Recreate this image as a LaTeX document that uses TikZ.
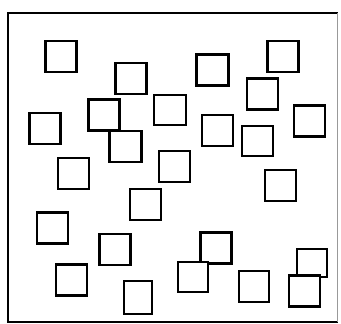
\documentclass[tikz,border=0pt]{standalone}
\begin{document}
\begin{tikzpicture}[x=1pt,y=-1pt,
  sq/.style={draw=black,line width=2.3pt,fill=white,inner sep=0pt,outer sep=0pt,minimum width=31pt,minimum height=31pt}]
\useasboundingbox (0,0) rectangle (341,324);
% frame
\coordinate (tl) at (8,13);
\coordinate (tr) at (337,13);
\coordinate (bl) at (8,322);
\coordinate (br) at (337,322);
\draw[line width=2pt,line cap=rect] (tr) -- (tl) -- (bl) -- (br);
\draw[line width=0.7pt,black!40] (tr) -- (br);
% squares
\node[sq] (s1) at (61,56.5) {};
\node[sq] (s2) at (131,78.5) {};
\node[sq] (s3) at (104,115) {};
\node[sq] (s4) at (45,128.5) {};
\node[sq,minimum width=32pt] (s5) at (125.5,146.5) {};
\node[sq,minimum width=32pt,minimum height=30pt] (s6) at (170,110) {};
\node[sq] (s7) at (73.5,173.5) {};
\node[sq] (s8) at (174.5,166.5) {};
\node[sq,minimum width=32pt] (s9) at (212.5,70) {};
\node[sq] (s10) at (283,56.5) {};
\node[sq] (s11) at (262.5,94) {};
\node[sq] (s12) at (217.5,130.5) {};
\node[sq,minimum height=30pt] (s13) at (257.5,141) {};
\node[sq] (s14) at (309.5,121) {};
\node[sq] (s15) at (280.5,185.5) {};
\node[sq] (s16) at (145.5,204.5) {};
\node[sq] (s17) at (52.5,228) {};
\node[sq] (s18) at (115,249.5) {};
\node[sq] (s19) at (71.5,280) {};
\node[sq,minimum width=28.5pt,minimum height=33pt] (s20) at (138,297.5) {};
\node[sq] (s22) at (216,248) {};
\node[sq,minimum width=30pt,minimum height=30pt] (s21) at (193,277) {};
\node[sq,minimum width=30pt] (s23) at (254,286.5) {};
\node[sq,minimum width=30pt,minimum height=28pt] (s24) at (312,263) {};
\node[sq] (s25) at (304.5,291) {};
\end{tikzpicture}
\end{document}
